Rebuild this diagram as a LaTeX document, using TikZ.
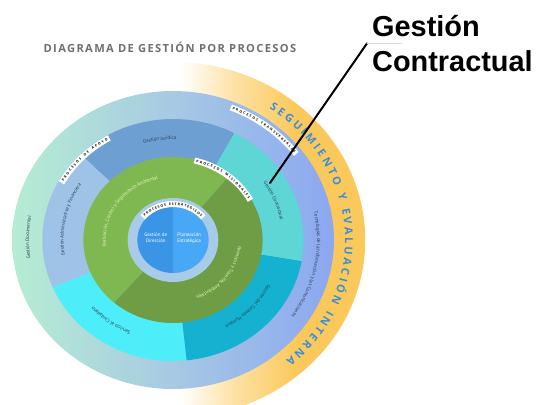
\documentclass[tikz,border=0pt]{standalone}
\usepackage{fontspec}
\setmainfont{Open Sans}
\newfontfamily\titlefont[LetterSpace=12]{Open Sans}
\newfontfamily\labelfont{PT Sans}
\newfontfamily\calloutfont{Liberation Sans}
\usetikzlibrary{decorations.text}
\definecolor{ringyellow}{HTML}{FBC95B}
\definecolor{outermint}{HTML}{B6EDD3}
\definecolor{outermid}{HTML}{A7C9E3}
\definecolor{outerblue}{HTML}{8BA7F1}
\definecolor{jurblue}{HTML}{6E9FD3}
\definecolor{admblue}{HTML}{9EC3E7}
\definecolor{servcyan}{HTML}{4EEDFA}
\definecolor{talcyan}{HTML}{14B2D0}
\definecolor{contteal}{HTML}{5FD6D6}
\definecolor{greenlight}{HTML}{7FB851}
\definecolor{greendark}{HTML}{6E9D46}
\definecolor{ringpale}{HTML}{A8CCE8}
\definecolor{discleft}{HTML}{3B95E7}
\definecolor{discright}{HTML}{48A8F6}
\definecolor{labelgray}{HTML}{2E4258}
\definecolor{greentext}{HTML}{E8F1C2}
\definecolor{segblue}{HTML}{3A8ED8}
\definecolor{titlegray}{HTML}{6F6F6F}
\pgfdeclarehorizontalshading{yellowfade}{100bp}{color(0bp)=(white); color(51bp)=(white); color(58bp)=(ringyellow!55); color(66bp)=(ringyellow); color(100bp)=(ringyellow)}
\begin{document}
\begin{tikzpicture}[x=1bp,y=1bp,line join=round,line cap=round,
	ringlabel/.style={decorate,decoration={text along path,text align=center,raise=-1.8bp,text color=labelgray,text={|\labelfont\fontsize{5}{6}\selectfont|#1}}},
	greenlabel/.style={decorate,decoration={text along path,text align=center,raise=-1.8bp,text color=greentext,text={|\labelfont\fontsize{5}{6}\selectfont|#1}}},
	banner/.style={draw=white,line width=6bp,line cap=butt,postaction={decorate,decoration={text along path,text align={fit to path,left indent=2bp,right indent=2bp},raise=-1.2bp,text={|\bfseries\fontsize{3.4}{4}\selectfont|#1}}}},
	seglabel/.style={decorate,decoration={text along path,text align={fit to path},raise=-4bp,text color=segblue,text={|\bfseries\fontsize{11}{13}\selectfont|#1}}},
	disctext/.style={text=white,font=\labelfont\fontsize{5}{5.8}\selectfont,align=center,inner sep=0pt},
	pointer/.style={line width=2bp}]
	\useasboundingbox (0,0) rectangle (537,404);
	\clip (0,0) rectangle (537,404);
	% rings, from the outside in
	\begin{scope}[shift={(173,164)},x=1.08bp]
		\shade[shading=yellowfade] (0,0) circle[radius=178];
		\shade[left color=outermint,right color=outerblue,middle color=outermid] (0,0) circle[radius=149];
		\foreach \a/\b/\c in {62/135/jurblue,135/203/admblue,203/276/servcyan,276/350/talcyan,350/422/contteal}
			\fill[\c] (0,0) -- (\a:121) arc[start angle=\a,end angle=\b,radius=121] -- cycle;
		\fill[greenlight] (0,0) -- (51:83) arc[start angle=51,end angle=229,radius=83] -- cycle;
		\fill[greendark] (0,0) -- (229:83) arc[start angle=229,end angle=411,radius=83] -- cycle;
		\fill[ringpale] (0,0) circle[radius=42];
		\fill[discleft] (0,0) -- (90:33) arc[start angle=90,end angle=270,radius=33] -- cycle;
		\fill[discright] (0,0) -- (-90:33) arc[start angle=-90,end angle=90,radius=33] -- cycle;
		% labels along the rings
		\path[ringlabel={Gestión Jurídica}] (115:102) arc[start angle=115,end angle=79,radius=102];
		\path[ringlabel={Gestión Administrativa y Financiera}] (205:103) arc[start angle=205,end angle=131,radius=103];
		\path[ringlabel={Servicio al Ciudadano}] (-96:101) arc[start angle=-96,end angle=-156,radius=101];
		\path[ringlabel={Gestión del Talento Humano}] (-5:100) arc[start angle=-5,end angle=-81,radius=100];
		\path[ringlabel={Gestión Contractual}] (55:103) arc[start angle=55,end angle=-10,radius=103];
		\path[ringlabel={Gestión Documental}] (205:135) arc[start angle=205,end angle=153,radius=135];
		\path[ringlabel={Tecnologías de la Información y las Comunicaciones}] (35:135) arc[start angle=35,end angle=-57,radius=135];
		\path[greenlabel={Evaluación, Control y Seguimiento Ambiental}] (200:64) arc[start angle=200,end angle=90,radius=64];
		\path[greenlabel={Permisos y Trámites Ambientales}] (10:62) arc[start angle=10,end angle=-84,radius=62];
		\path[banner={PROCESOS ESTRATÉGICOS}] (141:36) arc[start angle=141,end angle=39,radius=36];
		\path[banner={PROCESOS MISIONALES}] (76:82) arc[start angle=76,end angle=29,radius=82];
		\path[banner={PROCESOS DE APOYO}] (151:118) arc[start angle=151,end angle=120,radius=118];
		\path[banner={PROCESOS TRANSVERSALES}] (68:143) arc[start angle=68,end angle=37,radius=143];
		\path[seglabel={SEGUIMIENTO Y EVALUACIÓN INTERNA}] (56:163) arc[start angle=56,end angle=-49,radius=163];
		\node[disctext] (direccion) at (-16,2) {Gestión de\\Dirección};
		\node[disctext] (estrategica) at (15,2) {Planeación\\Estratégica};
	\end{scope}
	\node[text=titlegray,font=\titlefont\bfseries\fontsize{11.2}{13}\selectfont] (title) at (170,357) {DIAGRAMA DE GESTIÓN POR PROCESOS};
	\node[anchor=north west,inner sep=0pt,align=left,font=\calloutfont\bfseries\fontsize{29}{35}\selectfont] (callout) at (372,389) {Gestión\\Contractual};
	\coordinate (tip) at (270,221);
	\coordinate (elbow) at ([xshift=-5bp]callout.west);
	\draw[pointer] (tip) -- (elbow);
	\draw[gray!30,line width=.6bp] (elbow) -- ++(35,0);
\end{tikzpicture}
\end{document}
